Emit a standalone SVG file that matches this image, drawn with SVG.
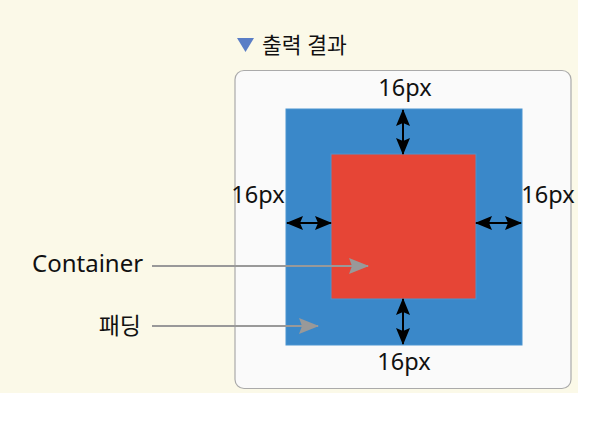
<svg xmlns="http://www.w3.org/2000/svg" width="609" height="427" viewBox="0 0 609 427">
<defs>
<style>
.t{font-family:"Noto Sans","Noto Sans CJK KR",sans-serif;fill:#111;}
.dim{stroke:#000;stroke-width:2;fill:none;marker-start:url(#ah);marker-end:url(#ah);}
.lead{stroke:#999;stroke-width:2;fill:none;marker-end:url(#gh);}
</style>
<marker id="ah" viewBox="0 0 17 14" refX="16" refY="7" markerWidth="17" markerHeight="14" markerUnits="userSpaceOnUse" orient="auto-start-reverse">
<path d="M0,0 L17,7 L0,14 L3,7 Z" fill="#000"/>
</marker>
<marker id="gh" viewBox="0 0 20 16" refX="19" refY="8" markerWidth="20" markerHeight="16" markerUnits="userSpaceOnUse" orient="auto">
<path d="M0,0 L20,8 L0,16 L3,8 Z" fill="#999"/>
</marker>
</defs>
<rect x="0" y="0" width="578" height="393" fill="#fbf9e8"/>
<g id="title">
<path d="M237,38 L254,38 L245.5,52 Z" fill="#5a7ec6"/>
<text class="t" x="262" y="53" font-size="21.5">출력 결과</text>
</g>
<g id="output-box">
<rect x="235" y="70.5" width="336" height="318" rx="9" fill="#fafafa" stroke="#aaa" stroke-width="1.2"/>
</g>
<g id="padding">
<rect x="286" y="109" width="236" height="236" fill="#3a88c9" stroke="#4a94d0" stroke-width="1"/>
</g>
<g id="container">
<rect x="331" y="154" width="145" height="145" fill="#e64536" stroke="#4a94d0" stroke-width="1"/>
</g>
<g id="labels">
<text class="t" x="405" y="96" font-size="23.5" text-anchor="middle">16px</text>
<text class="t" x="258" y="203" font-size="23.5" text-anchor="middle">16px</text>
<text class="t" x="548" y="203" font-size="23.5" text-anchor="middle">16px</text>
<text class="t" x="404" y="370" font-size="23.5" text-anchor="middle">16px</text>
<text class="t" x="32" y="272" font-size="24">Container</text>
<text class="t" x="141" y="334" font-size="23" text-anchor="end">패딩</text>
</g>
<g id="connectors">
<line class="dim" x1="403" y1="110" x2="403" y2="154"/>
<line class="dim" x1="403" y1="299" x2="403" y2="344"/>
<line class="dim" x1="287" y1="223" x2="331" y2="223"/>
<line class="dim" x1="476" y1="223" x2="521" y2="223"/>
<line class="lead" x1="152" y1="266" x2="368" y2="266"/>
<line class="lead" x1="152" y1="326" x2="318" y2="326"/>
</g>
</svg>
